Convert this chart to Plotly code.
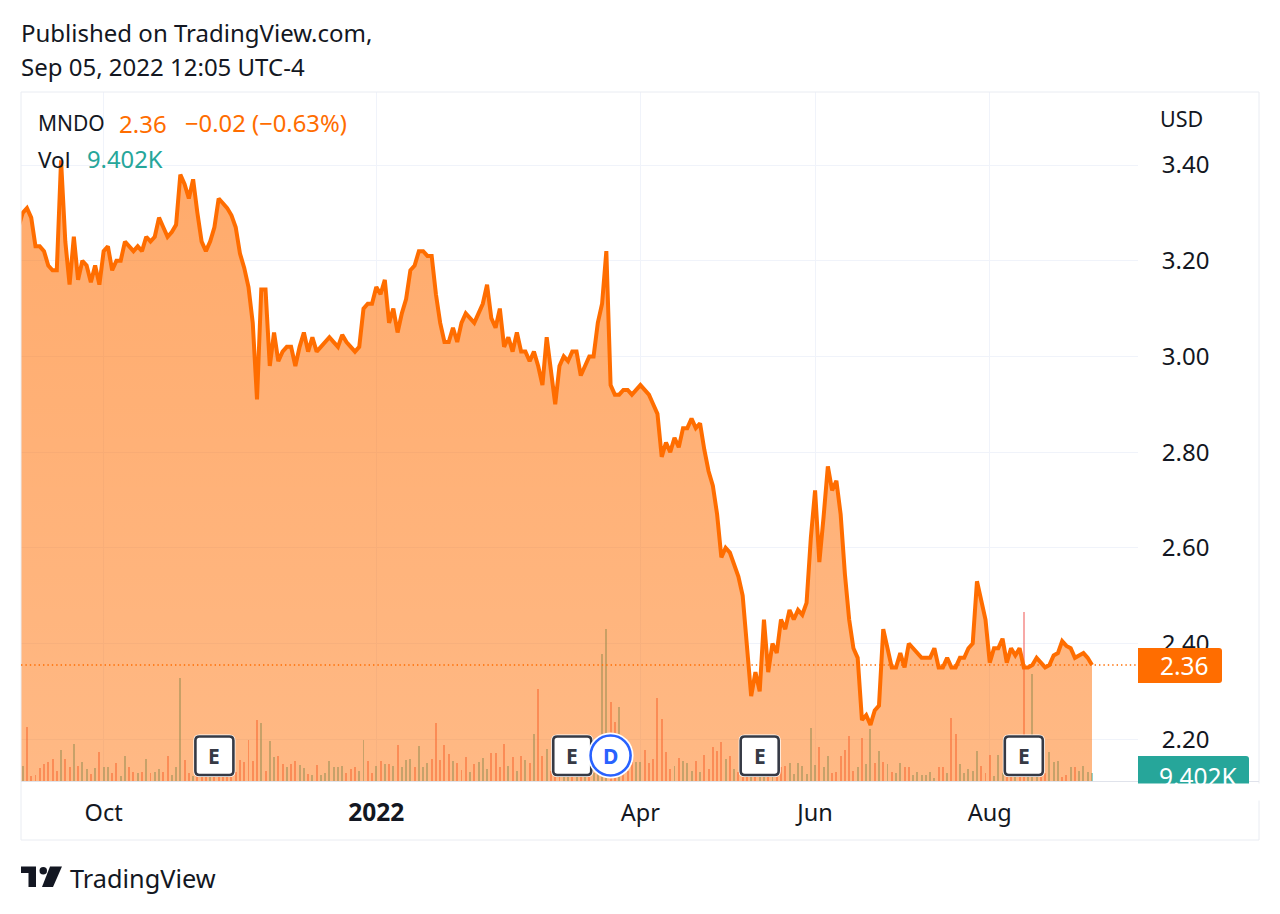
import plotly.graph_objects as go

# cierres diarios MNDO, Sep 2021 - Sep 2022
before_start = 3.27
closes = [
    3.30, 3.31, 3.29, 3.23, 3.23, 3.22, 3.19, 3.18, 3.18, 3.41,
    3.24, 3.15, 3.25, 3.16, 3.20, 3.19, 3.155, 3.19, 3.15, 3.22,
    3.23, 3.18, 3.20, 3.20, 3.24, 3.23, 3.22, 3.23, 3.22, 3.25,
    3.24, 3.25, 3.29, 3.27, 3.25, 3.26, 3.275, 3.38, 3.36, 3.33,
    3.37, 3.30, 3.24, 3.22, 3.24, 3.27, 3.33, 3.32, 3.31, 3.295,
    3.27, 3.215, 3.185, 3.145, 3.07, 2.91, 3.14, 3.14, 2.98, 3.05,
    2.99, 3.01, 3.02, 3.02, 2.98, 3.02, 3.05, 3.01, 3.04, 3.01,
    3.02, 3.03, 3.04, 3.03, 3.02, 3.045, 3.03, 3.02, 3.01, 3.02,
    3.10, 3.11, 3.11, 3.145, 3.13, 3.16, 3.07, 3.10, 3.05, 3.09,
    3.12, 3.18, 3.19, 3.22, 3.22, 3.21, 3.21, 3.13, 3.07, 3.03,
    3.03, 3.06, 3.03, 3.07, 3.09, 3.08, 3.07, 3.09, 3.11, 3.15,
    3.08, 3.06, 3.10, 3.02, 3.04, 3.01, 3.05, 3.01, 3.01, 2.99,
    3.01, 2.98, 2.94, 3.04, 2.97, 2.90, 2.98, 3.00, 2.99, 3.01,
    3.01, 2.96, 2.98, 3.00, 3.00, 3.07, 3.11, 3.22, 2.94, 2.92,
    2.92, 2.93, 2.93, 2.92, 2.93, 2.94, 2.93, 2.92, 2.90, 2.88,
    2.79, 2.82, 2.80, 2.83, 2.81, 2.85, 2.85, 2.87, 2.85, 2.86,
    2.805, 2.76, 2.73, 2.67, 2.58, 2.60, 2.59, 2.565, 2.54, 2.50,
    2.40, 2.29, 2.34, 2.30, 2.45, 2.34, 2.40, 2.38, 2.45, 2.43,
    2.47, 2.45, 2.47, 2.46, 2.485, 2.62, 2.72, 2.57, 2.665, 2.77,
    2.72, 2.74, 2.67, 2.545, 2.45, 2.39, 2.37, 2.24, 2.25, 2.23,
    2.26, 2.27, 2.43, 2.39, 2.35, 2.35, 2.38, 2.35, 2.40, 2.39,
    2.38, 2.37, 2.37, 2.37, 2.39, 2.35, 2.35, 2.37, 2.35, 2.35,
    2.37, 2.37, 2.39, 2.40, 2.53, 2.49, 2.45, 2.36, 2.39, 2.39,
    2.41, 2.36, 2.39, 2.375, 2.39, 2.35, 2.35, 2.355, 2.37, 2.36,
    2.35, 2.355, 2.375, 2.38, 2.405, 2.395, 2.39, 2.37, 2.375, 2.38, 2.37, 2.355,
]

# volumen en miles
volumes = [
    17.6, 64, 6, 7, 15, 20, 23, 26.5, 12, 37,
    26.5, 16, 44, 17.5, 23, 14, 8, 15, 34, 16,
    16, 9, 21, 6, 30, 17, 11, 9, 11, 26,
    10, 11, 14, 11, 29, 7, 16, 122, 25, 9,
    6, 9, 10, 8, 12, 11, 9, 10, 8, 9,
    11, 25, 22, 48, 24, 72, 68, 12, 47, 28,
    30, 20, 16, 20, 24, 19, 15, 8, 7, 19,
    7, 10, 24, 16, 17, 18, 10, 14, 16, 12,
    48, 24, 10, 18, 24, 20, 20, 18, 43, 16,
    25, 26, 16, 41, 17, 21, 26, 68, 25, 42,
    32, 24, 21, 13, 28, 11, 20, 23, 27, 14,
    33, 33, 17, 44, 18, 28, 12, 30, 25, 21,
    55, 108, 29, 38, 12, 9, 8, 10, 9, 11,
    8, 10, 9, 12, 10, 14, 150, 179, 93, 70,
    87, 12, 12, 22, 22, 22, 36, 21, 26, 98,
    73, 34, 14, 18, 27, 24, 21, 12, 24, 11,
    31, 14, 40, 35, 46, 26, 30, 14, 11, 9,
    12, 10, 10, 13, 9, 11, 10, 12, 16, 18,
    21, 8, 21, 18, 8, 62, 19, 40, 16, 30,
    9, 11, 29, 37, 53, 12, 16, 51, 20, 61,
    21, 35, 22, 20, 11, 9, 21, 17, 16, 7,
    11, 7, 7, 11, 4, 17, 16, 9, 74, 56,
    20, 9, 14, 12, 35, 18, 9, 31, 6, 31,
    10, 10, 11, 9, 12, 200, 14, 126, 8, 9,
    9, 34, 23, 24, 5, 7, 16, 16, 12, 18, 11, 9.402,
]

# g = sube, r = baja
directions = (
    "grrrrrrrrg" "rrgrggrgrg" "grrggrrgrg" "rggrrgggrr" "grrrgrrrrr"
    "rrrrrrgrgg" "rrgrrggrgr" "ggggggrrrg" "grrgrgrgrg" "ggrgggrrrr"
    "rgrrrgrggg" "rrrrgrgrgr" "grrgrrrggr" "grgrggggrr" "grrrggrrrr"
    "rrrgrgggrg" "rrrrrgrgrr" "rgrggrgrrr" "gggggggrgg" "rrrrrrgrgg"
    "rgrgrggrrg" "gggggrrgrr" "gggggrrrgg" "grrgrrgggr" "rgggrrgrgggg"
)

month_ticks = [19, 83, 145, 186, 227]
month_labels = ["Oct", "<b style='font-size:24.5px'>2022</b>", "Apr", "Jun", "Aug"]
price_ticks = [2.20, 2.40, 2.60, 2.80, 3.00, 3.20, 3.40]
earnings_days = [45, 129, 173, 235]
dividend_days = [138]

ORANGE = "#FF6D00"
TEAL = "#26A69A"
BLACK = "#131722"
FONT = "Noto Sans"

# area del grafico en pixeles
L, R, T, B = 21, 1138, 92, 781


def px(x):
    return (x - L) / (R - L)


def py(y):
    return (B - y) / (B - T)


days = list(range(len(closes)))
bar_colors = ["rgba(239,83,80,0.5)" if d == "r" else "rgba(38,166,154,0.5)" for d in directions]

fig = go.Figure()

fig.add_trace(go.Bar(
    x=days, y=volumes, width=0.46, marker=dict(color=bar_colors, line_width=0),
    yaxis="y", hoverinfo="skip",
))

fig.add_trace(go.Scatter(
    x=[-1] + days, y=[before_start] + closes, yaxis="y2", mode="lines",
    line=dict(color=ORANGE, width=4, shape="linear"),
    fill="tozeroy",
    fillgradient=dict(
        type="vertical",
        start=2.11, stop=3.41,
        colorscale=[[0, "rgba(255,109,0,0.48)"], [1, "rgba(255,109,0,0.58)"]],
    ),
))


def rounded(x0, y0, x1, y1, r, left=True):
    # rectangulo redondeado en pixeles de pagina
    if left:
        return (f"M{px(x0 + r)},{py(y0)} L{px(x1 - r)},{py(y0)} Q{px(x1)},{py(y0)} {px(x1)},{py(y0 + r)} "
                f"L{px(x1)},{py(y1 - r)} Q{px(x1)},{py(y1)} {px(x1 - r)},{py(y1)} L{px(x0 + r)},{py(y1)} "
                f"Q{px(x0)},{py(y1)} {px(x0)},{py(y1 - r)} L{px(x0)},{py(y0 + r)} Q{px(x0)},{py(y0)} {px(x0 + r)},{py(y0)} Z")
    return (f"M{px(x0)},{py(y0)} L{px(x1 - r)},{py(y0)} Q{px(x1)},{py(y0)} {px(x1)},{py(y0 + r)} "
            f"L{px(x1)},{py(y1 - r)} Q{px(x1)},{py(y1)} {px(x1 - r)},{py(y1)} L{px(x0)},{py(y1)} Z")


def polygon(points):
    return "M" + " L".join(f"{px(x)},{py(y)}" for x, y in points) + " Z"


def day_px(d):
    return 22.7 + 4.26 * d


shapes = [
    # marco exterior
    dict(type="rect", xref="paper", yref="paper", x0=px(21), x1=px(1259), y0=py(840), y1=py(92),
         line=dict(color="#E9ECF2", width=1), layer="above"),
    dict(type="line", xref="paper", yref="paper", x0=px(21), x1=px(1259), y0=py(781.5), y1=py(781.5),
         line=dict(color="#E0E3EB", width=1), layer="above"),
    # etiquetas del eje de precios
    dict(type="path", xref="paper", yref="paper", path=rounded(1138, 648, 1222, 683, 3, left=False),
         fillcolor=ORANGE, line_width=0, layer="above"),
    dict(type="path", xref="paper", yref="paper", path=rounded(1138, 756, 1249, 787, 3, left=False),
         fillcolor=TEAL, line_width=0, layer="above"),
    # logo
    dict(type="path", xref="paper", yref="paper",
         path=polygon([(21, 866.5), (36, 866.5), (36, 887), (28.5, 887), (28.5, 873), (21, 873)]),
         fillcolor=BLACK, line_width=0, layer="above"),
    dict(type="circle", xref="paper", yref="paper", x0=px(39.5), x1=px(47), y0=py(874.5), y1=py(867),
         fillcolor=BLACK, line_width=0, layer="above"),
    dict(type="path", xref="paper", yref="paper",
         path=polygon([(50, 866.5), (62, 866.5), (53, 887), (42, 887)]),
         fillcolor=BLACK, line_width=0, layer="above"),
]

annotations = []


def note(text, x, y, size, color=BLACK, anchor="left"):
    # la anotacion trae unos 2px de relleno a la izquierda
    x = x - 2 if anchor == "left" else x
    annotations.append(dict(
        text=text, xref="paper", yref="paper", x=px(x), y=py(y), showarrow=False,
        xanchor=anchor, yanchor="middle", font=dict(family=FONT, size=size, color=color),
    ))


# insignias E y D
for d in earnings_days:
    cx = day_px(d)
    shapes.append(dict(type="path", xref="paper", yref="paper", path=rounded(cx - 21, 734.5, cx + 21, 777, 6),
                       fillcolor="white", line_width=0, layer="above"))
    shapes.append(dict(type="path", xref="paper", yref="paper", path=rounded(cx - 19, 736.5, cx + 19, 775, 4),
                       fillcolor="white", line=dict(color="#363A45", width=2.6), layer="above"))
for d in dividend_days:
    cx = day_px(d)
    shapes.append(dict(type="circle", xref="paper", yref="paper", x0=px(cx - 23), x1=px(cx + 23), y0=py(778.5), y1=py(732.5),
                       fillcolor="white", line_width=0, layer="above"))
    shapes.append(dict(type="circle", xref="paper", yref="paper", x0=px(cx - 20), x1=px(cx + 20), y0=py(775.5), y1=py(735.5),
                       fillcolor="white", line=dict(color="#2962FF", width=2.6), layer="above"))

note("Published on TradingView.com,", 21, 32, 24)
note("Sep 05, 2022 12:05 UTC-4", 21, 67, 24)
note("USD", 1160, 119, 21.5)
note("MNDO", 38, 123, 21)
note("2.36", 119, 123, 24, ORANGE)
note("−0.02 (−0.63%)", 185, 123, 23.8, ORANGE)
note("Vol", 38, 159, 22.5)
note("9.402K", 87, 159, 23.8, TEAL)
note("2.36", 1184, 665.5, 24.5, "white", "center")
note("9.402K", 1198, 776, 24.5, "white", "center")
note("TradingView", 70, 878, 25.3)
for d in earnings_days:
    note("<b>E</b>", day_px(d), 756, 21, "#363A45", "center")
for d in dividend_days:
    note("<b>D</b>", day_px(d), 756, 21, "#2962FF", "center")

# tapa lo que sobresale de la etiqueta de volumen
annotations.append(dict(
    text=" ", xref="paper", yref="paper", x=px(1136), y=py(783), xanchor="left", yanchor="top",
    showarrow=False, bgcolor="white", width=122, height=14, font=dict(size=10),
))

fig.update_layout(
    width=1280, height=914, autosize=False,
    margin=dict(l=L, r=1280 - R, t=T, b=914 - B, pad=0),
    paper_bgcolor="white", plot_bgcolor="white",
    showlegend=False, bargap=0,
    font=dict(family=FONT, color=BLACK),
    shapes=shapes, annotations=annotations,
    xaxis=dict(
        range=[-0.4, 261.8], tickmode="array", tickvals=month_ticks, ticktext=month_labels,
        showgrid=True, gridcolor="#F0F3FA", gridwidth=1, zeroline=False, showline=False,
        ticks="outside", ticklen=11, tickcolor="rgba(0,0,0,0)", tickfont=dict(size=23.5, color=BLACK),
    ),
    yaxis=dict(range=[0, 813], visible=False, fixedrange=True),
    yaxis2=dict(
        overlaying="y", side="right", range=[2.1126, 3.5526],
        tickmode="array", tickvals=price_ticks, tickformat=".2f",
        showgrid=True, gridcolor="#F0F3FA", gridwidth=1, zeroline=False, showline=False,
        ticks="outside", ticklen=18, tickcolor="rgba(0,0,0,0)", tickfont=dict(size=24, color=BLACK),
    ),
)

# linea punteada del ultimo precio
fig.add_shape(type="line", xref="paper", x0=0, x1=1, yref="y2", y0=closes[-1], y1=closes[-1],
              line=dict(color=ORANGE, width=1.4, dash="1.4px,3px"), layer="above")

fig.write_html("out.html", post_script="document.body.style.margin='0';", config={"displayModeBar": False})
